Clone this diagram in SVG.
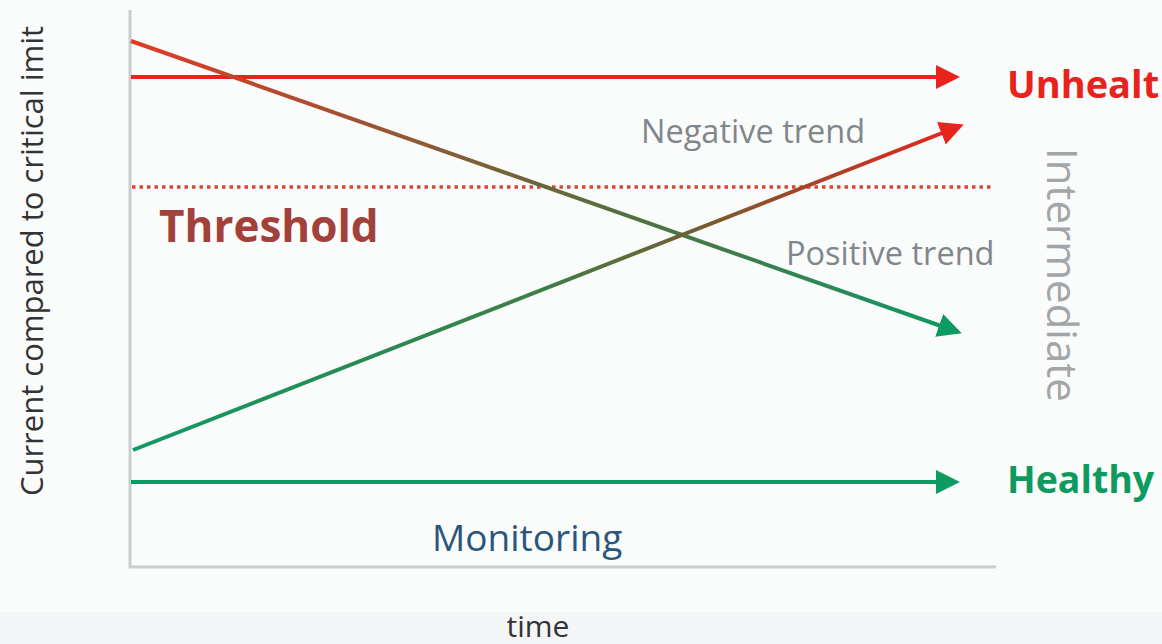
<svg xmlns="http://www.w3.org/2000/svg" width="1162" height="644" viewBox="0 0 1162 644">
  <style>
    .lbl { font-family: "Open Sans", "Liberation Sans", sans-serif; }
    .axis { stroke: #c9cdd0; stroke-width: 3; fill: none; }
    .trend { fill: #80868a; font-size: 32.5px; }
  </style>
  <defs>
    <marker id="headRed" markerWidth="6" markerHeight="6" refX="5" refY="3" orient="auto" markerUnits="strokeWidth">
      <path d="M0,0 L6,3 L0,6 Z" fill="#e8231b"/>
    </marker>
    <marker id="headGreen" markerWidth="6" markerHeight="6" refX="5" refY="3" orient="auto" markerUnits="strokeWidth">
      <path d="M0,0 L6,3 L0,6 Z" fill="#0e9a63"/>
    </marker>
    <linearGradient id="redToGreen" gradientUnits="userSpaceOnUse" x1="130" y1="0" x2="960" y2="0">
      <stop offset="0" stop-color="#e03a26"/>
      <stop offset="0.55" stop-color="#5d6b3c"/>
      <stop offset="1" stop-color="#0e9a63"/>
    </linearGradient>
    <linearGradient id="greenToRed" gradientUnits="userSpaceOnUse" x1="130" y1="0" x2="960" y2="0">
      <stop offset="0" stop-color="#0e9a63"/>
      <stop offset="0.5" stop-color="#3e7e46"/>
      <stop offset="0.7" stop-color="#7a5a30"/>
      <stop offset="1" stop-color="#e8231b"/>
    </linearGradient>
  </defs>

  <!-- background -->
  <rect x="0" y="0" width="1162" height="644" fill="#fafbfb"/>
  <rect x="0" y="612" width="1162" height="32" fill="#f4f5f6"/>

  <!-- axes -->
  <g id="axes">
    <path class="axis" d="M130,10 V567 H996"/>
  </g>

  <!-- threshold -->
  <g id="threshold">
    <line x1="132" y1="187" x2="992" y2="187" stroke="#d8463a" stroke-width="3.5" stroke-dasharray="3.5 4"/>
    <text class="lbl" x="159" y="242" font-size="44" font-weight="bold" fill="#a2403a">Threshold</text>
  </g>

  <!-- connectors -->
  <g id="connectors" fill="none" stroke-width="4">
    <line x1="131" y1="77" x2="956" y2="77" stroke="#e8231b" marker-end="url(#headRed)"/>
    <line x1="131" y1="41" x2="958" y2="332" stroke="url(#redToGreen)" marker-end="url(#headGreen)"/>
    <line x1="133" y1="450" x2="960" y2="126" stroke="url(#greenToRed)" marker-end="url(#headRed)"/>
    <line x1="131" y1="482" x2="956" y2="482" stroke="#0e9a63" marker-end="url(#headGreen)"/>
  </g>

  <!-- state labels -->
  <g id="unhealthy">
    <text class="lbl" x="1007" y="98" font-size="38" font-weight="bold" fill="#e8231b">Unhealt</text>
  </g>
  <g id="healthy">
    <text class="lbl" x="1007" y="493" font-size="37.5" font-weight="bold" fill="#0e9a5e">Healthy</text>
  </g>
  <g id="intermediate">
    <text class="lbl" transform="translate(1047,148) rotate(90)" font-size="42" fill="#a3a5a7">Intermediate</text>
  </g>
  <g id="negative-trend">
    <text class="lbl trend" x="641" y="143">Negative trend</text>
  </g>
  <g id="positive-trend">
    <text class="lbl trend" x="786" y="265">Positive trend</text>
  </g>
  <g id="monitoring">
    <text class="lbl" x="432" y="551" font-size="37" fill="#2a567c">Monitoring</text>
  </g>

  <!-- axis titles -->
  <g id="axis-titles">
    <text class="lbl" x="538" y="637" font-size="30" fill="#333" text-anchor="middle">time</text>
    <text class="lbl" transform="translate(43,261) rotate(-90)" font-size="31" fill="#333" text-anchor="middle">Current compared to critical imit</text>
  </g>
</svg>
